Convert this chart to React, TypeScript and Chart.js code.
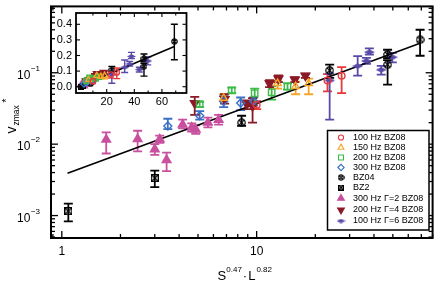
import React, { useEffect, useRef } from 'react';
import { Chart, registerables } from 'chart.js';
import { drawPoint } from 'chart.js/helpers';

Chart.register(...registerables);

const FONT = '"Liberation Sans", Arial, Helvetica, sans-serif';

// ---------------- data ----------------
const seriesLabels = [
  '100 Hz BZ08',
  '150 Hz BZ08',
  '200 Hz BZ08',
  '300 Hz BZ08',
  'BZ04',
  'BZ2',
  '300 Hz \u0393=2 BZ08',
  '200 Hz \u0393=4 BZ08',
  '100 Hz \u0393=6 BZ08',
];

const hz100X = [10.0, 23.1, 27.3];
const hz100Y = [0.0354, 0.078, 0.091];
const hz100Lo = [0.031, 0.055, 0.052];
const hz100Hi = [0.040, 0.096, 0.12];

const hz150X = [6.77, 12.8, 15.85, 18.5];
const hz150Y = [0.0441, 0.0707, 0.0643, 0.0707];
const hz150Lo = [0.040, 0.060, 0.050, 0.050];
const hz150Hi = [0.050, 0.078, 0.075, 0.083];

const hz200X = [5.1, 7.45, 9.77, 11.94, 14.4];
const hz200Y = [0.0365, 0.0567, 0.0516, 0.0532, 0.0643];
const hz200Lo = [0.033, 0.052, 0.038, 0.042, 0.058];
const hz200Hi = [0.039, 0.062, 0.060, 0.065, 0.071];

const hz300X = [3.5, 5.1, 6.77, 8.28, 9.65];
const hz300Y = [0.018, 0.025, 0.040, 0.0376, 0.040];
const hz300Lo = [0.0162, 0.022, 0.033, 0.030, 0.035];
const hz300Hi = [0.0227, 0.029, 0.047, 0.045, 0.045];

const bz04X = [8.37, 23.7, 47, 47, 69];
const bz04Y = [0.020, 0.108, 0.18, 0.13, 0.29];
const bz04Lo = [0.018, 0.085, 0.16, 0.068, 0.173];
const bz04Hi = [0.025, 0.13, 0.21, 0.15, 0.40];

const bz2X = [1.08, 3.0];
const bz2Y = [0.00115, 0.00335];
const bz2Lo = [0.00083, 0.0025];
const bz2Hi = [0.00147, 0.00427];

const g2X = [1.69, 2.45, 3.0, 3.18, 3.45, 4.17, 4.64, 4.87, 5.62, 6.38];
const g2Y = [0.0116, 0.0118, 0.0085, 0.0117, 0.006, 0.0188, 0.0171, 0.016, 0.02, 0.022];
const g2Lo = [0.0074, 0.0079, 0.0071, 0.0104, 0.0042, 0.0166, 0.015, 0.014, 0.0172, 0.0188];
const g2Hi = [0.0146, 0.0154, 0.010, 0.0132, 0.0076, 0.022, 0.0195, 0.0183, 0.0235, 0.0257];

const g4X = [4.81, 6.85, 8.88, 9.53, 11.65, 12.94, 15.7, 17.8];
const g4Y = [0.0376, 0.0427, 0.0365, 0.0342, 0.0707, 0.0826, 0.080, 0.091];
const g4Lo = [0.0257, 0.037, 0.031, 0.020, 0.063, 0.074, 0.074, 0.085];
const g4Hi = [0.046, 0.050, 0.041, 0.044, 0.079, 0.092, 0.087, 0.097];

const g6X = [23.7, 33.0, 36.6, 37.9, 43.6, 49.7];
const g6Y = [0.078, 0.124, 0.146, 0.194, 0.110, 0.165];
const g6Lo = [0.022, 0.091, 0.133, 0.18, 0.094, 0.14];
const g6Hi = [0.097, 0.171, 0.162, 0.22, 0.125, 0.19];

const fitX = [1.07, 69];
const fitY = [0.0039, 0.258];

// tick labels
const mainXTicks = [1, 10];
const mainYExponents = [-3, -2, -1];
const insetXTicks = [20, 40, 60];
const insetYTicks = [0.0, 0.1, 0.2, 0.3, 0.4];

// ---------------- styles ----------------
type Style = { color: string; marker: string; radius: number; filled: boolean; rotation?: number };
const styles: Style[] = [
  { color: '#e8383a', marker: 'circle', radius: 3.3, filled: false },
  { color: '#f5a52a', marker: 'triangle', radius: 4.3, filled: false },
  { color: '#3cba48', marker: 'rect', radius: 4.5, filled: false },
  { color: '#3b6fc6', marker: 'rectRot', radius: 4, filled: false },
  { color: '#000000', marker: 'otimes', radius: 9, filled: false },
  { color: '#000000', marker: 'boxtimes', radius: 8, filled: false },
  { color: '#c8509e', marker: 'triangle', radius: 5, filled: true },
  { color: '#8b1a26', marker: 'triangle', radius: 5, filled: true, rotation: 180 },
  { color: '#5a4aa8', marker: 'flat', radius: 6, filled: true },
];

const seriesData = [
  [hz100X, hz100Y, hz100Lo, hz100Hi],
  [hz150X, hz150Y, hz150Lo, hz150Hi],
  [hz200X, hz200Y, hz200Lo, hz200Hi],
  [hz300X, hz300Y, hz300Lo, hz300Hi],
  [bz04X, bz04Y, bz04Lo, bz04Hi],
  [bz2X, bz2Y, bz2Lo, bz2Hi],
  [g2X, g2Y, g2Lo, g2Hi],
  [g4X, g4Y, g4Lo, g4Hi],
  [g6X, g6Y, g6Lo, g6Hi],
];

function markerCanvas(kind: string, color: string, size: number): HTMLCanvasElement {
  const c = document.createElement('canvas');
  const s = Math.max(4, Math.round(size));
  const w = kind === 'flat' ? Math.round(s * 1.8) : s;
  const h = s;
  c.width = w;
  c.height = h;
  const g = c.getContext('2d')!;
  g.strokeStyle = color;
  g.fillStyle = color;
  g.lineWidth = 1.2;
  const cx = w / 2;
  const cy = h / 2;
  if (kind === 'otimes') {
    const r = s / 2 - 0.8;
    g.beginPath();
    g.arc(cx, cy, r, 0, Math.PI * 2);
    g.stroke();
    const d = r * 0.7;
    g.beginPath();
    g.moveTo(cx - d, cy - d);
    g.lineTo(cx + d, cy + d);
    g.moveTo(cx + d, cy - d);
    g.lineTo(cx - d, cy + d);
    g.stroke();
  } else if (kind === 'boxtimes') {
    g.strokeRect(0.6, 0.6, s - 1.2, s - 1.2);
    g.beginPath();
    g.moveTo(1, 1);
    g.lineTo(s - 1, s - 1);
    g.moveTo(s - 1, 1);
    g.lineTo(1, s - 1);
    g.stroke();
  } else if (kind === 'flat') {
    g.beginPath();
    g.moveTo(0, cy);
    g.lineTo(cx, 0.3);
    g.lineTo(w, cy);
    g.lineTo(cx, h - 0.3);
    g.closePath();
    g.fill();
  }
  return c;
}

function markerFor(st: Style, k: number): { pointStyle: any; radius: number } {
  if (st.marker === 'otimes' || st.marker === 'boxtimes' || st.marker === 'flat') {
    return { pointStyle: markerCanvas(st.marker, st.color, st.radius * k), radius: 5 };
  }
  return { pointStyle: st.marker, radius: st.radius * k };
}

function buildDatasets(k: number) {
  const sets: any[] = seriesData.map(([xs, ys, lo, hi], i) => {
    const st = styles[i];
    const m = markerFor(st, k);
    return {
      label: seriesLabels[i],
      data: xs.map((x, j) => ({ x, y: ys[j] })),
      errLo: lo,
      errHi: hi,
      borderColor: st.color,
      backgroundColor: st.filled ? st.color : 'rgba(0,0,0,0)',
      pointStyle: m.pointStyle,
      pointRadius: m.radius,
      pointBorderWidth: 1.4,
      pointRotation: st.rotation || 0,
      showLine: false,
    };
  });
  sets.push({
    label: 'fit',
    data: fitX.map((x, j) => ({ x, y: fitY[j] })),
    borderColor: '#000000',
    borderWidth: 1.6,
    pointRadius: 0,
    showLine: true,
    fill: false,
  });
  return sets;
}

const errorBarPlugin = {
  id: 'errorBars',
  beforeDatasetsDraw(chart: any, _args: any, opts: any) {
    const { ctx, chartArea: a } = chart;
    const xs = chart.scales.x;
    const ys = chart.scales.y;
    ctx.save();
    ctx.beginPath();
    ctx.rect(a.left, a.top, a.right - a.left, a.bottom - a.top);
    ctx.clip();
    chart.data.datasets.forEach((ds: any) => {
      if (!ds.errLo) return;
      ctx.strokeStyle = ds.borderColor;
      ctx.lineWidth = opts.width;
      ds.data.forEach((p: any, j: number) => {
        const x = xs.getPixelForValue(p.x);
        const yl = ys.getPixelForValue(ds.errLo[j]);
        const yh = ys.getPixelForValue(ds.errHi[j]);
        ctx.beginPath();
        ctx.moveTo(x, yl);
        ctx.lineTo(x, yh);
        ctx.moveTo(x - opts.cap, yl);
        ctx.lineTo(x + opts.cap, yl);
        ctx.moveTo(x - opts.cap, yh);
        ctx.lineTo(x + opts.cap, yh);
        ctx.stroke();
      });
    });
    ctx.restore();
  },
};

function line(ctx: CanvasRenderingContext2D, x1: number, y1: number, x2: number, y2: number) {
  ctx.beginPath();
  ctx.moveTo(x1, y1);
  ctx.lineTo(x2, y2);
  ctx.stroke();
}

const legendRowsY = [137.5, 147.5, 157.5, 167.5, 177.5, 187.5, 198.3, 210, 221];

const mainDecor = {
  id: 'mainDecor',
  afterDraw(chart: any) {
    const { ctx, chartArea: a } = chart;
    const xs = chart.scales.x;
    const ys = chart.scales.y;
    ctx.save();
    ctx.strokeStyle = '#000';
    ctx.lineWidth = 1.3;
    for (let d = -5; d <= 2; d++) {
      for (let m = 1; m <= 9; m++) {
        const v = m * Math.pow(10, d);
        const L = m === 1 ? 7 : 4;
        if (v >= xs.min && v <= xs.max) {
          const px = xs.getPixelForValue(v);
          line(ctx, px, a.bottom, px, a.bottom - L);
          line(ctx, px, a.top, px, a.top + L);
        }
        if (v >= ys.min && v <= ys.max) {
          const py = ys.getPixelForValue(v);
          line(ctx, a.left, py, a.left + L, py);
          line(ctx, a.right, py, a.right - L, py);
        }
      }
    }
    ctx.lineWidth = 2;
    ctx.strokeRect(a.left, a.top, a.right - a.left, a.bottom - a.top);

    // tick labels
    ctx.fillStyle = '#000';
    ctx.textBaseline = 'middle';
    ctx.textAlign = 'center';
    ctx.font = `12px ${FONT}`;
    mainXTicks.forEach((v) => {
      ctx.fillText(String(v), xs.getPixelForValue(v), a.bottom + 14);
    });
    mainYExponents.forEach((e) => {
      const py = ys.getPixelForValue(Math.pow(10, e));
      const expStr = '\u2212' + String(Math.abs(e));
      ctx.font = `8px ${FONT}`;
      const we = ctx.measureText(expStr).width;
      ctx.font = `12px ${FONT}`;
      const wb = ctx.measureText('10').width;
      const right = 40;
      ctx.textAlign = 'left';
      ctx.fillText('10', right - we - wb - 0.5, py + 2.7);
      ctx.font = `8px ${FONT}`;
      ctx.fillText(expStr, right - we, py - 4);
    });

    // x title: S^0.47 · L^0.82
    ctx.textBaseline = 'alphabetic';
    ctx.textAlign = 'left';
    const parts: [string, number, number, number][] = [
      ['S', 13, 0, 0],
      ['0.47', 8, -8.5, 1],
      ['\u00B7', 13, 0, 1],
      ['L', 13, 0, 1],
      ['0.82', 8, -8.5, 0],
    ];
    let total = 0;
    parts.forEach(([t, f, , gap]) => {
      ctx.font = `${f}px ${FONT}`;
      total += ctx.measureText(t).width + gap;
    });
    let x = (a.left + a.right) / 2 + 3 - total / 2;
    const base = 280;
    parts.forEach(([t, f, dy, gap]) => {
      ctx.font = `${f}px ${FONT}`;
      ctx.fillText(t, x, base + dy);
      x += ctx.measureText(t).width + gap;
    });

    // y title: v_zmax^*
    ctx.save();
    ctx.translate(15.5, 133.5);
    ctx.rotate(-Math.PI / 2);
    ctx.font = `14px ${FONT}`;
    ctx.fillText('v', 0, 0);
    let off = ctx.measureText('v').width + 1;
    ctx.font = `8.5px ${FONT}`;
    ctx.fillText('zmax', off, 3.5);
    off += ctx.measureText('zmax').width + 2.5;
    ctx.font = `11px ${FONT}`;
    ctx.fillText('*', off, -6);
    ctx.restore();

    // legend
    const lx = 327.5, ly = 130.5, lw = 101.5, lh = 99.5;
    ctx.fillStyle = '#fff';
    ctx.fillRect(lx, ly, lw, lh);
    ctx.strokeStyle = '#000';
    ctx.lineWidth = 1.5;
    ctx.strokeRect(lx, ly, lw, lh);
    styles.forEach((st, i) => {
      const yy = legendRowsY[i];
      const m = markerFor(st, 0.78);
      ctx.strokeStyle = st.color;
      ctx.fillStyle = st.filled ? st.color : 'rgba(0,0,0,0)';
      ctx.lineWidth = 1.1;
      drawPoint(ctx, { pointStyle: m.pointStyle, radius: m.radius, rotation: st.rotation || 0, borderWidth: 1.1 } as any, 341, yy);
      ctx.fillStyle = '#000';
      ctx.font = `9px ${FONT}`;
      ctx.textBaseline = 'middle';
      ctx.textAlign = 'left';
      ctx.fillText(seriesLabels[i], 353, yy);
    });
    ctx.restore();
  },
};

const insetDecor = {
  id: 'insetDecor',
  beforeDraw(chart: any) {
    const { ctx, chartArea: a } = chart;
    ctx.save();
    ctx.fillStyle = '#fff';
    ctx.fillRect(a.left, a.top, a.right - a.left, a.bottom - a.top);
    ctx.restore();
  },
  afterDraw(chart: any) {
    const { ctx, chartArea: a } = chart;
    const xs = chart.scales.x;
    const ys = chart.scales.y;
    ctx.save();
    ctx.strokeStyle = '#000';
    ctx.lineWidth = 1.1;
    for (let v = 10; v <= 70; v += 10) {
      const px = xs.getPixelForValue(v);
      const L = v % 20 === 0 ? 4 : 2.5;
      line(ctx, px, a.bottom, px, a.bottom - L);
      line(ctx, px, a.top, px, a.top + L);
    }
    insetYTicks.forEach((v) => {
      const py = ys.getPixelForValue(v);
      line(ctx, a.left, py, a.left + 4, py);
      line(ctx, a.right, py, a.right - 4, py);
    });
    ctx.lineWidth = 1.8;
    ctx.strokeRect(a.left, a.top, a.right - a.left, a.bottom - a.top);
    ctx.fillStyle = '#000';
    ctx.font = `11px ${FONT}`;
    ctx.textBaseline = 'middle';
    ctx.textAlign = 'right';
    insetYTicks.forEach((v) => {
      ctx.fillText(v.toFixed(1), a.left - 4, ys.getPixelForValue(v));
    });
    ctx.textAlign = 'center';
    insetXTicks.forEach((v) => {
      ctx.fillText(String(v), xs.getPixelForValue(v), a.bottom + 9);
    });
    ctx.restore();
  },
};

function baseOptions(extra: any) {
  return {
    responsive: false,
    animation: false,
    devicePixelRatio: 1,
    events: [],
    plugins: {
      legend: { display: false },
      tooltip: { enabled: false },
      ...extra.plugins,
    },
    layout: extra.layout,
    scales: extra.scales,
  };
}

export default function App() {
  const mainRef = useRef<HTMLCanvasElement>(null);
  const insetRef = useRef<HTMLCanvasElement>(null);

  useEffect(() => {
    const main = new Chart(mainRef.current as HTMLCanvasElement, {
      type: 'scatter',
      data: { datasets: buildDatasets(1) },
      options: baseOptions({
        layout: { padding: { left: 51, right: 6, top: 1, bottom: 43 } },
        scales: {
          x: { type: 'logarithmic', display: false, min: 0.88, max: 80 },
          y: { type: 'logarithmic', display: false, min: 4.85e-4, max: 0.85 },
        },
        plugins: { errorBars: { cap: 4.5, width: 1.8 } },
      }) as any,
      plugins: [errorBarPlugin, mainDecor],
    } as any);

    const inset = new Chart(insetRef.current as HTMLCanvasElement, {
      type: 'scatter',
      data: { datasets: buildDatasets(0.8) },
      options: baseOptions({
        layout: { padding: { left: 36, right: 8.5, top: 13, bottom: 27 } },
        scales: {
          x: { type: 'linear', display: false, min: -2.25, max: 77.8 },
          y: { type: 'linear', display: false, min: -0.0404, max: 0.4724 },
        },
        plugins: { errorBars: { cap: 3.5, width: 1.4 } },
      }) as any,
      plugins: [errorBarPlugin, insetDecor],
    } as any);

    return () => {
      main.destroy();
      inset.destroy();
    };
  }, []);

  return (
    <div style={{ position: 'absolute', left: 0, top: 0, width: 439, height: 281, background: '#fff' }}>
      <canvas
        ref={mainRef}
        width={439}
        height={281}
        style={{ position: 'absolute', left: 0, top: 0, width: 439, height: 281 }}
      />
      <canvas
        ref={insetRef}
        width={155}
        height={120}
        style={{ position: 'absolute', left: 40, top: 0, width: 155, height: 120 }}
      />
    </div>
  );
}
